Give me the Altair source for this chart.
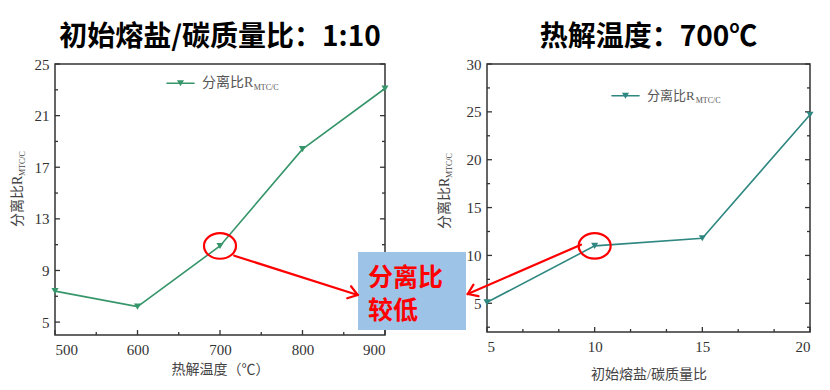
import math
import altair as alt
import pandas as pd

# ---------------- data ----------------
temps = [500, 600, 700, 800, 900]
ratio_by_temp = [7.4, 6.2, 10.9, 18.4, 23.1]
salt_ratio = [5, 10, 15, 20]
ratio_by_salt = [5.1, 11.0, 11.8, 24.7]

left_x_major = [500, 600, 700, 800, 900]
left_x_minor = [550, 650, 750, 850]
left_y_major = [5, 9, 13, 17, 21, 25]
left_y_minor = [7, 11, 15, 19, 23]
right_x_major = [5, 10, 15, 20]
right_x_minor = [20 / 3, 25 / 3, 35 / 3, 40 / 3, 50 / 3, 55 / 3]
right_y_major = [5, 10, 15, 20, 25, 30]
right_y_minor = [2.5, 7.5, 12.5, 17.5, 22.5, 27.5]

panel_titles = ["初始熔盐/碳质量比：1:10", "热解温度：700℃"]
x_titles = ["热解温度（℃）", "初始熔盐/碳质量比"]
series_main = "分离比R"
series_sub = "MTC/C"
note_lines = ["分离比", "较低"]

SERIF = "Liberation Serif, Noto Sans CJK SC"
NUM = "Liberation Serif"
CJK = "Noto Sans CJK SC"
ELLIPSE = "M -1 0 A 1 0.8 0 1 0 1 0 A 1 0.8 0 1 0 -1 0 Z"
RED = "#FF0000"
one = pd.DataFrame({"a": [0]})


def seg(x1, y1, x2, y2, color=RED, width=2.2):
    return alt.Chart(one).mark_rule(color=color, strokeWidth=width, strokeCap="round").encode(
        x=alt.value(x1), y=alt.value(y1), x2=alt.value(x2), y2=alt.value(y2))


def arrow(x1, y1, x2, y2, head=11, spread=35):
    ang = math.atan2(y2 - y1, x2 - x1)
    parts = [seg(x1, y1, x2, y2)]
    for s in (spread, -spread):
        a = ang + math.radians(s)
        parts.append(seg(x2, y2, x2 - head * math.cos(a), y2 - head * math.sin(a)))
    return parts


def label(txt, x, y, size, color="#444", font=SERIF, angle=0, weight="normal"):
    return alt.Chart(one).mark_text(text=txt, fontSize=size, font=font, color=color, angle=angle,
                                    align="left", baseline="middle", fontWeight=weight).encode(
        x=alt.value(x), y=alt.value(y))


def panel(xs, ys, xdom, ydom, xmaj, xmin, ymaj, ymin, W, H, color, xtitle, title,
          hi, title_pad, leg, ytl, leg_size, extras):
    df = pd.DataFrame({"x": xs, "y": ys})
    xenc = alt.X("x:Q", scale=alt.Scale(domain=xdom, nice=False, zero=False),
                 axis=alt.Axis(values=xmaj, ticks=False, domain=False, grid=False,
                               labelFont=NUM, labelFontSize=15, labelColor="#333",
                               labelPadding=7, title=xtitle, titleFont=SERIF,
                               titleFontSize=14, titleFontWeight="normal",
                               titleColor="#444", titlePadding=title_pad))
    yenc = alt.Y("y:Q", scale=alt.Scale(domain=ydom, nice=False, zero=False),
                 axis=alt.Axis(values=ymaj, ticks=False, domain=False, grid=False,
                               labelFont=NUM, labelFontSize=15, labelColor="#333",
                               labelPadding=6, title=None))
    layers = []
    for vals, ln in ((ymaj, 5), (ymin, 3)):
        d = pd.DataFrame({"y": vals})
        layers.append(alt.Chart(d).mark_rule(color="#333", strokeWidth=1.3).encode(
            y=yenc, x=alt.value(0), x2=alt.value(ln)))
        layers.append(alt.Chart(d).mark_rule(color="#333", strokeWidth=1.3).encode(
            y=yenc, x=alt.value(W), x2=alt.value(W - ln)))
    for vals, ln in ((xmaj, 5), (xmin, 3)):
        d = pd.DataFrame({"x": vals})
        layers.append(alt.Chart(d).mark_rule(color="#333", strokeWidth=1.3).encode(
            x=xenc, y=alt.value(H), y2=alt.value(H - ln)))
    base = alt.Chart(df)
    layers.append(base.mark_line(color=color, strokeWidth=1.6).encode(x=xenc, y=yenc))
    layers.append(base.mark_point(shape="triangle-down", filled=True, size=50, color=color,
                                  opacity=1).encode(x=xenc, y=yenc))
    hdf = pd.DataFrame({"x": [xs[hi]], "y": [ys[hi]]})
    layers.append(alt.Chart(hdf).mark_point(shape=ELLIPSE, size=1024, filled=False,
                                            stroke=RED, strokeWidth=2.2, opacity=1).encode(
        x=xenc, y=yenc))
    # legend
    lx1, lx2, ly, tx = leg
    layers.append(seg(lx1, ly, lx2, ly, color=color, width=1.6))
    layers.append(alt.Chart(one).mark_point(shape="triangle-down", filled=True, size=50,
                                            color=color, opacity=1).encode(
        x=alt.value((lx1 + lx2) / 2), y=alt.value(ly)))
    layers.append(label(series_main, tx, ly, leg_size, color="#555"))
    layers.append(label(series_sub, tx + 3.05 * leg_size + 9, ly + 5, 8, color="#555"))
    # y-axis title (with subscript)
    yx, yb = ytl
    layers.append(label(series_main, yx, yb, 14, angle=270))
    layers.append(label(series_sub, yx + 5, yb - 51, 8, angle=270))
    layers.extend(extras)
    return alt.layer(*layers).properties(
        width=W, height=H,
        title=alt.TitleParams(title, font=CJK, fontSize=28, fontWeight="bold",
                              color="#000", anchor="middle", offset=5))


left_extras = [
    alt.Chart(one).mark_rect(color="#9DC3E6").encode(
        x=alt.value(303), x2=alt.value(411), y=alt.value(188), y2=alt.value(266)),
    label(note_lines[0], 313, 214, 25, color=RED, font=CJK, weight="bold"),
    label(note_lines[1], 313, 247, 25, color=RED, font=CJK, weight="bold"),
] + arrow(179.3, 191.7, 302.7, 231)

right_extras = arrow(94, 180.7, -19.3, 230)

left = panel(temps, ratio_by_temp, [500, 900], [4, 25], left_x_major, left_x_minor,
             left_y_major, left_y_minor, 330, 271, "#37956A", x_titles[0], panel_titles[0],
             2, 5, (112, 139, 19.3, 147), (-37, 163), 14, left_extras)
right = panel(salt_ratio, ratio_by_salt, [5, 20], [2, 30], right_x_major, right_x_minor,
              right_y_major, right_y_minor, 323, 268, "#2E8780", x_titles[1], panel_titles[1],
              1, 13, (125, 152, 31.7, 160), (-42, 165), 13, right_extras)

chart = alt.hconcat(left, right, spacing=102, bounds="flush").configure_view(
    stroke="#333", strokeWidth=1.5).properties(
    padding={"left": 2, "top": 15, "right": 5, "bottom": 5})

chart.save("out.html", embed_options={"renderer": "svg", "actions": False})
